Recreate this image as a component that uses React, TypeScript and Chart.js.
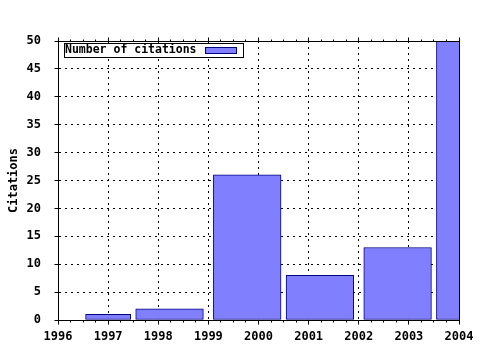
import React, { useEffect, useRef } from 'react';
import { Chart, registerables } from 'chart.js';

Chart.register(...registerables);

// ---- data ----
const years = [1997, 1998, 2000, 2001, 2003, 2004];
const citations = [1, 2, 26, 8, 13, 50];
const seriesLabel = 'Number of citations';
const yAxisTitle = 'Citations';
const xRange = [1996, 2004];
const yRange = [0, 50];
const xStep = 1;
const xMinorStep = 0.25;
const yStep = 5;

const FONT = '"DejaVu Sans Mono", "Liberation Mono", monospace';

const align = (p: number) => Math.round(p - 0.5) + 0.5;

const framePlugin = {
  id: 'gnuFrame',
  afterDraw(chart: any) {
    const { ctx, chartArea: a, scales } = chart;
    const xs = scales.x;
    const ys = scales.y;
    ctx.save();
    ctx.setLineDash([]);
    ctx.strokeStyle = '#000';
    ctx.lineWidth = 1;
    const L = align(a.left), R = align(a.right), T = align(a.top), B = align(a.bottom);
    ctx.strokeRect(L, T, R - L, B - T);

    // ticks (outward)
    ctx.beginPath();
    const n = Math.round((xs.max - xs.min) / xMinorStep);
    for (let i = 0; i <= n; i++) {
      const v = xs.min + i * xMinorStep;
      const px = align(xs.getPixelForValue(v));
      const major = Math.abs(v / xStep - Math.round(v / xStep)) < 1e-9;
      const len = major ? 4 : 2;
      ctx.moveTo(px, B);
      ctx.lineTo(px, B + len);
      ctx.moveTo(px, T);
      ctx.lineTo(px, T - len);
    }
    for (let v = ys.min; v <= ys.max + 1e-9; v += yStep) {
      const py = align(ys.getPixelForValue(v));
      ctx.moveTo(L, py);
      ctx.lineTo(L - 4, py);
    }
    ctx.stroke();

    // legend (inside, top-left)
    const ds = chart.data.datasets[0];
    ctx.font = `bold 11.5px ${FONT}`;
    const tw = ctx.measureText(ds.label).width;
    const bx = Math.round(a.left) + 6;
    const by = Math.round(a.top) + 2;
    const bh = 14;
    const tx = bx + 1;
    const sx = Math.round(tx + tw + 8);
    const sw = 31;
    const sh = 6;
    const bw = Math.round(sx + sw + 7 - bx);
    ctx.fillStyle = '#fff';
    ctx.fillRect(bx, by, bw, bh);
    ctx.strokeStyle = '#000';
    ctx.strokeRect(bx + 0.5, by + 0.5, bw, bh);
    ctx.fillStyle = '#000';
    ctx.textBaseline = 'middle';
    ctx.textAlign = 'left';
    ctx.fillText(ds.label, tx, by + bh / 2 + 0.5);
    ctx.fillStyle = ds.backgroundColor;
    ctx.fillRect(sx, by + 4, sw, sh);
    ctx.strokeStyle = ds.borderColor;
    ctx.strokeRect(sx + 0.5, by + 4.5, sw, sh);
    ctx.restore();
  },
};

export default function App() {
  const ref = useRef<HTMLCanvasElement>(null);
  useEffect(() => {
    document.body.style.margin = '0';
    const canvas = ref.current;
    if (!canvas) return;
    const chart = new Chart(canvas, {
      type: 'bar',
      data: {
        datasets: [
          {
            label: seriesLabel,
            data: years.map((x, i) => ({ x, y: citations[i] })),
            backgroundColor: '#8080ff',
            borderColor: '#000080',
            borderWidth: 1,
            borderSkipped: false,
            barThickness: 'flex',
            categoryPercentage: 0.9,
            barPercentage: 1,
            clip: 0,
          } as any,
        ],
      },
      options: {
        animation: false,
        responsive: false,
        devicePixelRatio: 1,
        events: [],
        layout: { padding: { top: 41, right: 21, bottom: 0, left: 0 } },
        plugins: {
          legend: { display: false },
          tooltip: { enabled: false },
        },
        scales: {
          x: {
            type: 'linear',
            min: xRange[0],
            max: xRange[1],
            offset: false,
            grid: {
              offset: false,
              color: '#000',
              lineWidth: 1,
              drawTicks: true,
              tickLength: 10,
              tickColor: 'rgba(0,0,0,0)',
            },
            border: { display: true, color: '#000', width: 1, dash: [2, 4] },
            ticks: {
              stepSize: xStep,
              padding: 0,
              color: '#000',
              maxRotation: 0,
              autoSkip: false,
              font: { family: FONT, size: 12, weight: 'bold' },
              callback: (v: any) => String(v),
            },
            afterFit: (s: any) => {
              s.height = 30;
            },
          },
          y: {
            type: 'linear',
            min: yRange[0],
            max: yRange[1],
            grid: { color: '#000', lineWidth: 1, drawTicks: false },
            border: { display: true, color: '#000', width: 1, dash: [2, 4] },
            ticks: {
              stepSize: yStep,
              padding: 17,
              color: '#000',
              font: { family: FONT, size: 12, weight: 'bold' },
            },
            title: {
              display: true,
              text: yAxisTitle,
              color: '#000',
              padding: { top: 7, bottom: 0 },
              font: { family: FONT, size: 12, weight: 'bold' },
            },
            afterFit: (s: any) => {
              s.width = 58;
            },
          },
        },
      },
      plugins: [framePlugin],
    });
    return () => chart.destroy();
  }, []);
  return <canvas ref={ref} width={480} height={350} />;
}
